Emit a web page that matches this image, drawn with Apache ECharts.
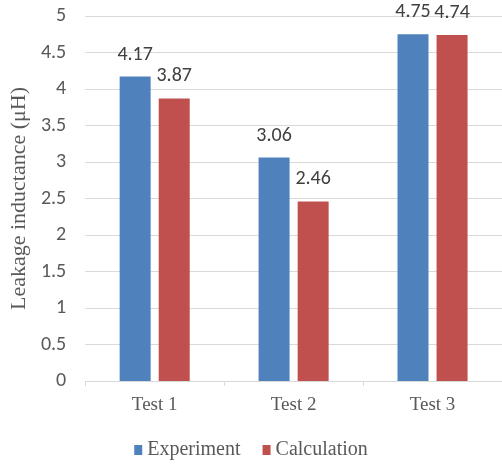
<!DOCTYPE html>
<html>
<head>
<meta charset="utf-8">
<script src="https://cdn.jsdelivr.net/npm/echarts@6/dist/echarts.min.js"></script>
<style>
  html, body { margin: 0; padding: 0; background: #fff; }
  #chart { width: 502px; height: 464px; }
</style>
</head>
<body>
<div id="chart"></div>
<script>
// Leakage inductance per test: measured vs. calculated
const categories = ['Test 1', 'Test 2', 'Test 3'];
const experiment = [4.17, 3.06, 4.75];
const calculation = [3.87, 2.46, 4.74];
const seriesNames = ['Experiment', 'Calculation'];
const yAxisName = 'Leakage inductance (\u03bcH)';

const serif = '"Liberation Serif", "Times New Roman", serif';
const sans = 'Carlito, Calibri, "Liberation Sans", Arial, sans-serif';

const chart = echarts.init(document.getElementById('chart'));

function barSeries(name, data, color) {
  return {
    name: name,
    type: 'bar',
    data: data,
    barWidth: 31,
    barGap: '26%',
    itemStyle: { color: color },
    label: {
      show: true,
      position: 'top',
      distance: 12,
      color: '#404040',
      fontFamily: sans,
      fontSize: 20,
      formatter: p => p.value.toFixed(2)
    }
  };
}

chart.setOption({
  animation: false,
  grid: { left: 81, right: 0, top: 16, bottom: 83 },
  legend: {
    top: 435,
    left: 'center',
    itemWidth: 8,
    itemHeight: 10,
    itemGap: 22,
    icon: 'rect',
    textStyle: { fontFamily: serif, fontSize: 20, color: '#595959' },
    data: seriesNames
  },
  xAxis: {
    type: 'category',
    data: categories,
    axisLine: { lineStyle: { color: '#d9d9d9', width: 1 } },
    axisTick: { show: true, length: 5, lineStyle: { color: '#d9d9d9' } },
    axisLabel: { fontFamily: serif, fontSize: 19, color: '#595959', margin: 15 }
  },
  yAxis: {
    type: 'value',
    min: 0,
    max: 5,
    interval: 0.5,
    name: yAxisName,
    nameLocation: 'middle',
    nameGap: 50,
    nameTextStyle: { fontFamily: serif, fontSize: 22, color: '#595959' },
    axisLine: { show: false },
    axisTick: { show: false },
    axisLabel: { fontFamily: sans, fontSize: 20, color: '#595959', margin: 19 },
    splitLine: { lineStyle: { color: '#d9d9d9', width: 1 } }
  },
  series: [
    barSeries(seriesNames[0], experiment, '#4f81bd'),
    barSeries(seriesNames[1], calculation, '#c0504d')
  ]
});
</script>
</body>
</html>
